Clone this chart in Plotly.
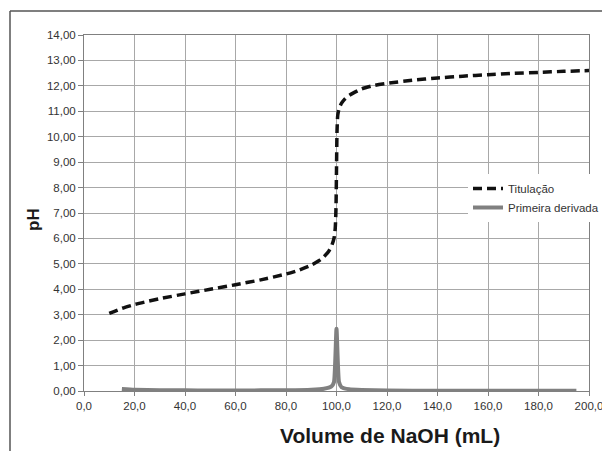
import plotly.graph_objects as go

# Titration curve (volume NaOH in mL, pH)
tit_vol = [10, 15, 20, 25, 30, 40, 50, 60, 70, 80, 85, 90, 93, 95, 97, 98, 99,
           99.5, 99.8, 100, 100.2, 100.5, 101, 102, 103, 105, 110, 115, 120,
           130, 140, 150, 160, 170, 180, 190, 200]
tit_ph = [3.05, 3.25, 3.40, 3.52, 3.63, 3.82, 4.00, 4.18, 4.37, 4.60, 4.75, 4.95,
          5.12, 5.28, 5.51, 5.69, 6.00, 6.40, 7.20, 8.70, 10.20, 10.85, 11.10,
          11.32, 11.45, 11.62, 11.88, 12.02, 12.10, 12.22, 12.31, 12.38, 12.44,
          12.49, 12.53, 12.57, 12.60]

# First derivative
der_vol = [15, 20, 30, 40, 50, 60, 70, 80, 90, 95, 98, 99, 100, 101, 102, 105,
           110, 120, 140, 160, 180, 195]
der_val = [0.08, 0.05, 0.03, 0.025, 0.02, 0.02, 0.025, 0.03, 0.05, 0.09, 0.18,
           0.35, 2.45, 0.35, 0.15, 0.07, 0.04, 0.02, 0.01, 0.008, 0.006, 0.005]

x_ticks = [0, 20, 40, 60, 80, 100, 120, 140, 160, 180, 200]

fig = go.Figure()
fig.add_trace(go.Scatter(x=tit_vol, y=tit_ph, mode="lines", name="Titulação",
                         line=dict(color="#111111", width=3.5, dash="9px,5px",
                                   shape="spline", smoothing=0.6)))
fig.add_trace(go.Scatter(x=der_vol, y=der_val, mode="lines", name="Primeira derivada",
                         line=dict(color="#808080", width=4, shape="spline", smoothing=0.5)))

OFF = 8  # page body margin
L, R, T, B = 84 - OFF, 589 - OFF, 35 - OFF, 391 - OFF
W, H = 610 - OFF, 451 - OFF
pw, ph = R - L, B - T

def px(x):
    return (x - OFF - L) / pw

def py(y):
    return (B - (y - OFF)) / ph

fig.update_layout(
    width=W, height=H, autosize=False,
    margin=dict(l=L, r=W - R, t=T, b=H - B, pad=0, autoexpand=False),
    paper_bgcolor="white", plot_bgcolor="white",
    separators=",.",
    font=dict(family="Liberation Sans, Arial, sans-serif", color="#333333", size=11.5),
    showlegend=True,
    legend=dict(x=px(468), y=py(174), xanchor="left", yanchor="top",
                bgcolor="white", borderwidth=0, font=dict(size=11.5, color="#333333"),
                tracegroupgap=0, itemwidth=30),
    xaxis=dict(range=[0, 200], tickvals=x_ticks, tickformat=".1f",
               showgrid=True, gridcolor="#a8a8a8", gridwidth=1,
               showline=True, linecolor="#808080", linewidth=1, mirror=True,
               ticks="outside", ticklen=4, tickcolor="#808080", zeroline=False,
               automargin=False),
    yaxis=dict(range=[0, 14], dtick=1, tickformat=".2f",
               showgrid=True, gridcolor="#a8a8a8", gridwidth=1,
               showline=True, linecolor="#808080", linewidth=1, mirror=True,
               ticks="outside", ticklen=5, tickcolor="#808080", zeroline=False,
               automargin=False),
    annotations=[
        dict(text="<b>Volume de NaOH (mL)</b>", xref="paper", yref="paper",
             x=px(390), y=py(435), xanchor="center", yanchor="middle",
             showarrow=False, font=dict(size=21, color="#1a1a1a")),
        dict(text="<b>pH</b>", xref="paper", yref="paper", textangle=-90,
             x=px(33), y=py(220), xanchor="center", yanchor="middle",
             showarrow=False, font=dict(size=17, color="#1a1a1a")),
    ],
    shapes=[
        dict(type="line", xref="paper", yref="paper", x0=px(10), x1=px(612),
             y0=py(11), y1=py(11), line=dict(color="#555555", width=1.5)),
        dict(type="line", xref="paper", yref="paper", x0=px(10), x1=px(10),
             y0=py(11), y1=py(455), line=dict(color="#555555", width=1.5)),
    ],
)

fig.write_html("out.html")
